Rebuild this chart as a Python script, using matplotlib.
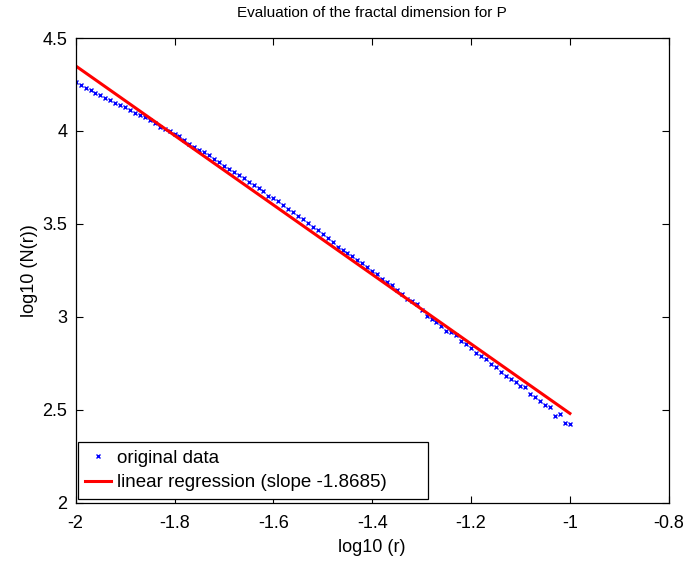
import matplotlib
matplotlib.use('Agg')
import matplotlib.pyplot as plt

# log10 of box size r (x) and log10 of box count N(r) (y)
log_r = [-2.00, -1.99, -1.98, -1.97, -1.96, -1.95, -1.94, -1.93, -1.92, -1.91,
         -1.90, -1.89, -1.88, -1.87, -1.86, -1.85, -1.84, -1.83, -1.82, -1.81,
         -1.80, -1.79, -1.78, -1.77, -1.76, -1.75, -1.74, -1.73, -1.72, -1.71,
         -1.70, -1.69, -1.68, -1.67, -1.66, -1.65, -1.64, -1.63, -1.62, -1.61,
         -1.60, -1.59, -1.58, -1.57, -1.56, -1.55, -1.54, -1.53, -1.52, -1.51,
         -1.50, -1.49, -1.48, -1.47, -1.46, -1.45, -1.44, -1.43, -1.42, -1.41,
         -1.40, -1.39, -1.38, -1.37, -1.36, -1.35, -1.34, -1.33, -1.32, -1.31,
         -1.30, -1.29, -1.28, -1.27, -1.26, -1.25, -1.24, -1.23, -1.22, -1.21,
         -1.20, -1.19, -1.18, -1.17, -1.16, -1.15, -1.14, -1.13, -1.12, -1.11,
         -1.10, -1.09, -1.08, -1.07, -1.06, -1.05, -1.04, -1.03, -1.02, -1.01,
         -1.00]
log_n = [4.262, 4.246, 4.233, 4.219, 4.206, 4.195, 4.179, 4.168, 4.152, 4.140,
         4.127, 4.111, 4.098, 4.086, 4.075, 4.058, 4.045, 4.023, 4.012, 4.000,
         3.986, 3.971, 3.950, 3.932, 3.916, 3.900, 3.887, 3.869, 3.849, 3.835,
         3.812, 3.797, 3.778, 3.765, 3.747, 3.727, 3.710, 3.692, 3.677, 3.652,
         3.640, 3.622, 3.600, 3.579, 3.565, 3.541, 3.527, 3.504, 3.484, 3.468,
         3.445, 3.423, 3.405, 3.375, 3.358, 3.342, 3.326, 3.308, 3.290, 3.267,
         3.246, 3.229, 3.206, 3.186, 3.170, 3.145, 3.125, 3.095, 3.088, 3.068,
         3.038, 3.007, 2.988, 2.973, 2.953, 2.926, 2.921, 2.902, 2.869, 2.853,
         2.832, 2.808, 2.789, 2.773, 2.746, 2.731, 2.703, 2.685, 2.665, 2.651,
         2.631, 2.622, 2.584, 2.571, 2.548, 2.528, 2.514, 2.468, 2.477, 2.430,
         2.425]

# regression line parameters
slope = -1.8685
intercept = 0.613
fit_x = [-2.0, -1.0]
fit_y = [slope * v + intercept for v in fit_x]

plt.rcParams['font.family'] = ['Liberation Sans', 'DejaVu Sans']

fig = plt.figure(figsize=(6.88, 5.63), dpi=100)
ax = fig.add_axes([0.110, 0.1066, 0.862, 0.8259])

ax.plot(log_r, log_n, 'x', color='#0000ff', markersize=2.6, markeredgewidth=1.0,
        label='original data')
ax.plot(fit_x, fit_y, '-', color='#ff0000', linewidth=2.2,
        label='linear regression (slope %.4f)' % slope)

ax.set_xlim(-2, -0.8)
ax.set_ylim(2, 4.5)
ax.set_xticks([-2, -1.8, -1.6, -1.4, -1.2, -1, -0.8])
ax.set_xticklabels(['-2', '-1.8', '-1.6', '-1.4', '-1.2', '-1', '-0.8'])
ax.set_yticks([2, 2.5, 3, 3.5, 4, 4.5])
ax.set_yticklabels(['2', '2.5', '3', '3.5', '4', '4.5'])
ax.tick_params(direction='in', top=True, right=True, length=5, width=0.8,
               labelsize=13)
ax.tick_params(axis='x', pad=9)
ax.tick_params(axis='y', pad=6)
for s in ax.spines.values():
    s.set_linewidth(0.9)

ax.set_xlabel('log10 (r)', fontsize=13, labelpad=5)
ax.set_ylabel('log10 (N(r))', fontsize=13, labelpad=3)
ax.set_title('Evaluation of the fractal dimension for P', fontsize=11, pad=15)

# legend box stretched to the width used in the original
leg = ax.legend(loc='lower left', bbox_to_anchor=(0.0034, 0.0086, 0.59, 0.1),
                mode='expand', borderaxespad=0, fontsize=13.5, fancybox=False,
                edgecolor='black', framealpha=1, handlelength=1.4,
                handletextpad=0.3, borderpad=0.4, labelspacing=0.4)
leg.get_frame().set_linewidth(0.9)

fig.savefig('out.png', dpi=100)
